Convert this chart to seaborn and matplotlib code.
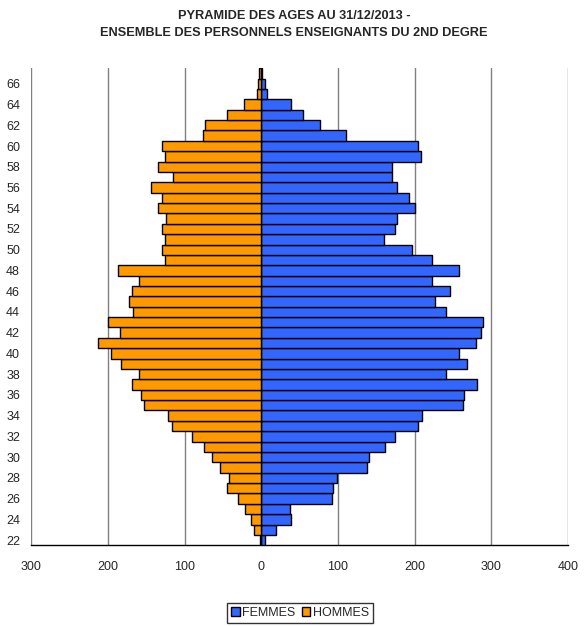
import numpy as np
import pandas as pd
import seaborn as sns
import matplotlib
import matplotlib.pyplot as plt
from matplotlib.patches import Patch
from matplotlib.ticker import FuncFormatter

# ages 22 -> 67
ages = list(range(22, 68))
femmes = [5, 19, 39, 37, 92, 93, 99, 138, 141, 162, 174, 204, 210, 263, 264, 281,
          241, 268, 258, 280, 286, 289, 241, 227, 246, 223, 258, 223, 196, 160,
          174, 177, 200, 193, 177, 171, 170, 208, 204, 110, 77, 54, 39, 8, 5, 1]
hommes = [1, 10, 14, 21, 30, 45, 42, 54, 64, 75, 90, 117, 122, 153, 157, 168,
          159, 183, 196, 213, 184, 200, 167, 173, 168, 160, 187, 125, 130, 125,
          129, 124, 134, 129, 144, 115, 135, 125, 129, 76, 73, 44, 23, 6, 4, 3]

df = pd.concat([
    pd.DataFrame({"age": ages, "val": femmes, "sexe": "FEMMES"}),
    pd.DataFrame({"age": ages, "val": [-h for h in hommes], "sexe": "HOMMES"}),
])

sns.set_style("white")
plt.rcParams['font.family'] = ['Liberation Sans', 'DejaVu Sans']

colors = {"FEMMES": "#3366FF", "HOMMES": "#FF9900"}

fig = plt.figure(figsize=(5.88, 6.26), dpi=100)
ax = fig.add_axes([0.053, 0.129, 0.913, 0.762])

sns.barplot(data=df, x="val", y="age", hue="sexe", orient="h", native_scale=True,
            dodge=False, width=1, palette=colors, saturation=1, edgecolor="black",
            linewidth=1, legend=False, ax=ax, zorder=3)

ax.set_xlim(-300, 400)
ax.set_ylim(21.5, 67.5)
ax.set_xticks(np.arange(-300, 401, 100))
ax.xaxis.set_major_formatter(FuncFormatter(lambda v, p: f"{abs(v):.0f}"))
ax.set_yticks(range(22, 67, 2))
ax.set_xlabel("")
ax.set_ylabel("")
ax.tick_params(axis="x", labelsize=9, length=3, width=1, color="#808080", pad=8)
ax.tick_params(axis="y", labelsize=9, length=0, pad=8)

ax.set_axisbelow(True)
ax.xaxis.grid(True, color="#808080", linewidth=1)
ax.yaxis.grid(False)
for s in ["top", "right", "left"]:
    ax.spines[s].set_visible(False)
ax.spines["bottom"].set_color("black")
ax.spines["bottom"].set_linewidth(1)

fig.text(0.5, 0.974, "PYRAMIDE DES AGES AU 31/12/2013 -", ha="center", va="center",
         fontsize=9.2, fontweight="bold")
fig.text(0.5, 0.948, "ENSEMBLE DES PERSONNELS ENSEIGNANTS DU 2ND DEGRE", ha="center",
         va="center", fontsize=9.2, fontweight="bold")

handles = [Patch(facecolor=colors["FEMMES"], edgecolor="black"),
           Patch(facecolor=colors["HOMMES"], edgecolor="black")]
leg = fig.legend(handles, ["FEMMES", "HOMMES"], loc="center", bbox_to_anchor=(0.51, 0.021),
                 ncol=2, fontsize=9, frameon=True, fancybox=False, edgecolor="black",
                 handlelength=0.7, handleheight=0.7, handletextpad=0.2, columnspacing=0.5,
                 borderpad=0.3)
leg.get_frame().set_linewidth(1)

plt.savefig("out.png", dpi=100)
